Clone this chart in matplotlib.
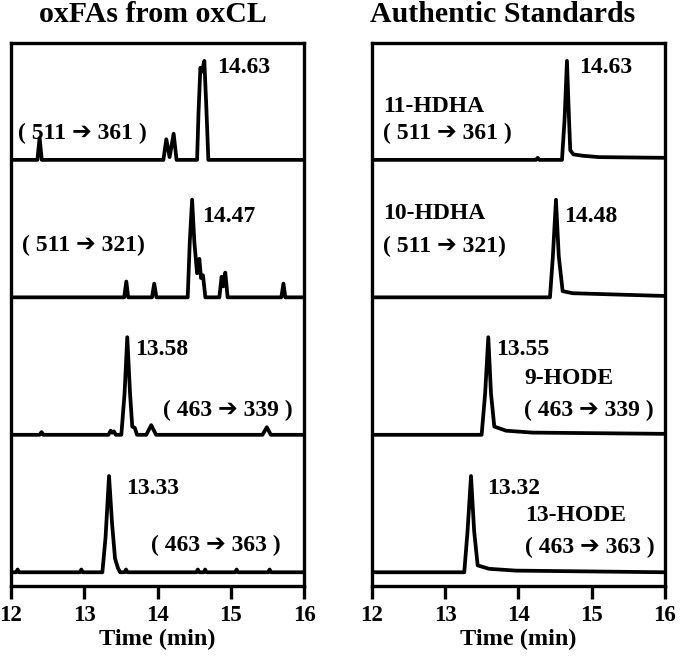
import matplotlib
matplotlib.use('Agg')
import matplotlib.pyplot as plt

plt.rcParams['font.family'] = ['Liberation Serif', 'DejaVu Sans']
plt.rcParams['font.weight'] = 'bold'

# left panel: oxFAs from oxCL (time in min, intensity relative)
cl361_t = [12.0, 12.36, 12.39, 12.42, 14.08, 14.12, 14.165, 14.22, 14.26, 14.54, 14.56, 14.585, 14.605, 14.639, 14.665, 14.694, 16.0]
cl361_y = [0, 0, 0.16, 0, 0, 0.15, 0.02, 0.19, 0, 0, 0.35, 0.67, 0.64, 0.72, 0.40, 0, 0]

cl321_t = [12.0, 13.545, 13.574, 13.60, 13.925, 13.955, 13.985, 14.412, 14.44, 14.472, 14.503, 14.54, 14.571,
           14.594, 14.621, 14.653, 14.844, 14.875, 14.898, 14.925, 14.957, 15.69, 15.719, 15.745, 16.0]
cl321_y = [0, 0, 0.115, 0, 0, 0.10, 0, 0, 0.40, 0.71, 0.40, 0.175, 0.28,
           0.14, 0.16, 0, 0, 0.15, 0.08, 0.18, 0, 0, 0.10, 0, 0]

cl339_t = [12.0, 12.39, 12.417, 12.44, 13.33, 13.36, 13.38, 13.405, 13.43, 13.506, 13.55, 13.587, 13.625,
           13.655, 13.69, 13.72, 13.846, 13.914, 13.98, 15.433, 15.492, 15.547, 16.0]
cl339_y = [0, 0, 0.02, 0, 0, 0.03, 0.015, 0.025, 0, 0, 0.30, 0.71, 0.30,
           0.06, 0.05, 0, 0, 0.07, 0, 0, 0.055, 0, 0]

cl363_t = [12.0, 12.07, 12.09, 12.11, 12.94, 12.96, 12.98, 13.247, 13.29, 13.338, 13.38, 13.42, 13.46, 13.49,
           13.55, 13.57, 13.59, 14.53, 14.55, 14.57, 14.63, 14.65, 14.67, 15.06, 15.08, 15.10, 15.51, 15.53, 15.55, 16.0]
cl363_y = [0, 0, 0.02, 0, 0, 0.02, 0, 0, 0.25, 0.70, 0.35, 0.10, 0.03, 0,
           0, 0.02, 0, 0, 0.02, 0, 0, 0.02, 0, 0, 0.02, 0, 0, 0.02, 0, 0]

# right panel: authentic standards
std361_t = [12.0, 14.24, 14.262, 14.285, 14.594, 14.63, 14.662, 14.69, 14.707, 14.75, 14.876, 15.10, 16.0]
std361_y = [0, 0, 0.015, 0, 0, 0.30, 0.72, 0.30, 0.07, 0.04, 0.03, 0.02, 0.015]

std321_t = [12.0, 14.43, 14.47, 14.512, 14.55, 14.603, 14.74, 16.0]
std321_y = [0, 0, 0.30, 0.71, 0.30, 0.045, 0.03, 0.01]

std339_t = [12.0, 13.497, 13.545, 13.588, 13.625, 13.67, 13.83, 14.19, 16.0]
std339_y = [0, 0, 0.30, 0.71, 0.30, 0.06, 0.03, 0.016, 0.007]

std363_t = [12.0, 13.26, 13.305, 13.352, 13.395, 13.443, 13.60, 13.966, 16.0]
std363_y = [0, 0, 0.30, 0.70, 0.30, 0.05, 0.025, 0.012, 0]

cl_rt = ['14.63', '14.47', '13.58', '13.33']
std_rt = ['14.63', '14.48', '13.55', '13.32']
transitions = ['( 511 \u2794 361 )', '( 511 \u2794 321)', '( 463 \u2794 339 )', '( 463 \u2794 363 )']
std_names = ['11-HDHA', '10-HDHA', '9-HODE', '13-HODE']

fig = plt.figure(figsize=(6.8, 6.6), dpi=100)
ax1 = fig.add_axes([0.0162, 0.1121, 0.4309, 0.8227])
ax2 = fig.add_axes([0.547, 0.1121, 0.4309, 0.8227])

lw = 2.7
left = [(cl361_t, cl361_y), (cl321_t, cl321_y), (cl339_t, cl339_y), (cl363_t, cl363_y)]
right = [(std361_t, std361_y), (std321_t, std321_y), (std339_t, std339_y), (std363_t, std363_y)]
for i, (t, y) in enumerate(left):
    off = 3 - i
    ax1.plot(t, [v + off for v in y], color='black', lw=lw, solid_joinstyle='round')
for i, (t, y) in enumerate(right):
    off = 3 - i
    ax2.plot(t, [v + off for v in y], color='black', lw=lw, solid_joinstyle='round')

for ax in (ax1, ax2):
    ax.set_xlim(12, 16)
    ax.set_ylim(-0.10, 3.85)
    ax.set_yticks([])
    ax.set_xticks([12, 13, 14, 15, 16])
    ax.tick_params(axis='x', direction='out', length=9.5, width=2.4, pad=4, labelsize=16.5)
    for s in ax.spines.values():
        s.set_linewidth(2.4)
    ax.set_xlabel('Time (min)', fontsize=17.5, fontweight='bold', labelpad=2)

fs = 17
# left annotations
ax1.text(14.82, 3.63, cl_rt[0], fontsize=fs)
ax1.text(12.095, 3.193, transitions[0], fontsize=fs, va='center')
ax1.text(14.61, 2.548, cl_rt[1], fontsize=fs)
ax1.text(12.146, 2.378, transitions[1], fontsize=fs, va='center')
ax1.text(13.70, 1.58, cl_rt[2], fontsize=fs)
ax1.text(14.07, 1.18, transitions[2], fontsize=fs, va='center')
ax1.text(13.574, 0.572, cl_rt[3], fontsize=fs)
ax1.text(13.914, 0.196, transitions[3], fontsize=fs, va='center')

# right annotations
ax2.text(14.826, 3.63, std_rt[0], fontsize=fs)
ax2.text(12.146, 3.39, std_names[0], fontsize=fs, va='center')
ax2.text(12.146, 3.19, transitions[0], fontsize=fs, va='center')
ax2.text(14.625, 2.548, std_rt[1], fontsize=fs)
ax2.text(12.146, 2.61, std_names[1], fontsize=fs, va='center')
ax2.text(12.146, 2.373, transitions[1], fontsize=fs, va='center')
ax2.text(13.70, 1.58, std_rt[2], fontsize=fs)
ax2.text(14.075, 1.406, std_names[2], fontsize=fs, va='center')
ax2.text(14.075, 1.176, transitions[2], fontsize=fs, va='center')
ax2.text(13.566, 0.572, std_rt[3], fontsize=fs)
ax2.text(14.09, 0.41, std_names[3], fontsize=fs, va='center')
ax2.text(14.09, 0.18, transitions[3], fontsize=fs, va='center')

fig.text(153 / 680, 1 - 14 / 660, 'oxFAs from oxCL', fontsize=21.5, ha='center', va='center')
fig.text(503 / 680, 1 - 14 / 660, 'Authentic Standards', fontsize=21.5, ha='center', va='center')

fig.savefig('out.png', dpi=100)
